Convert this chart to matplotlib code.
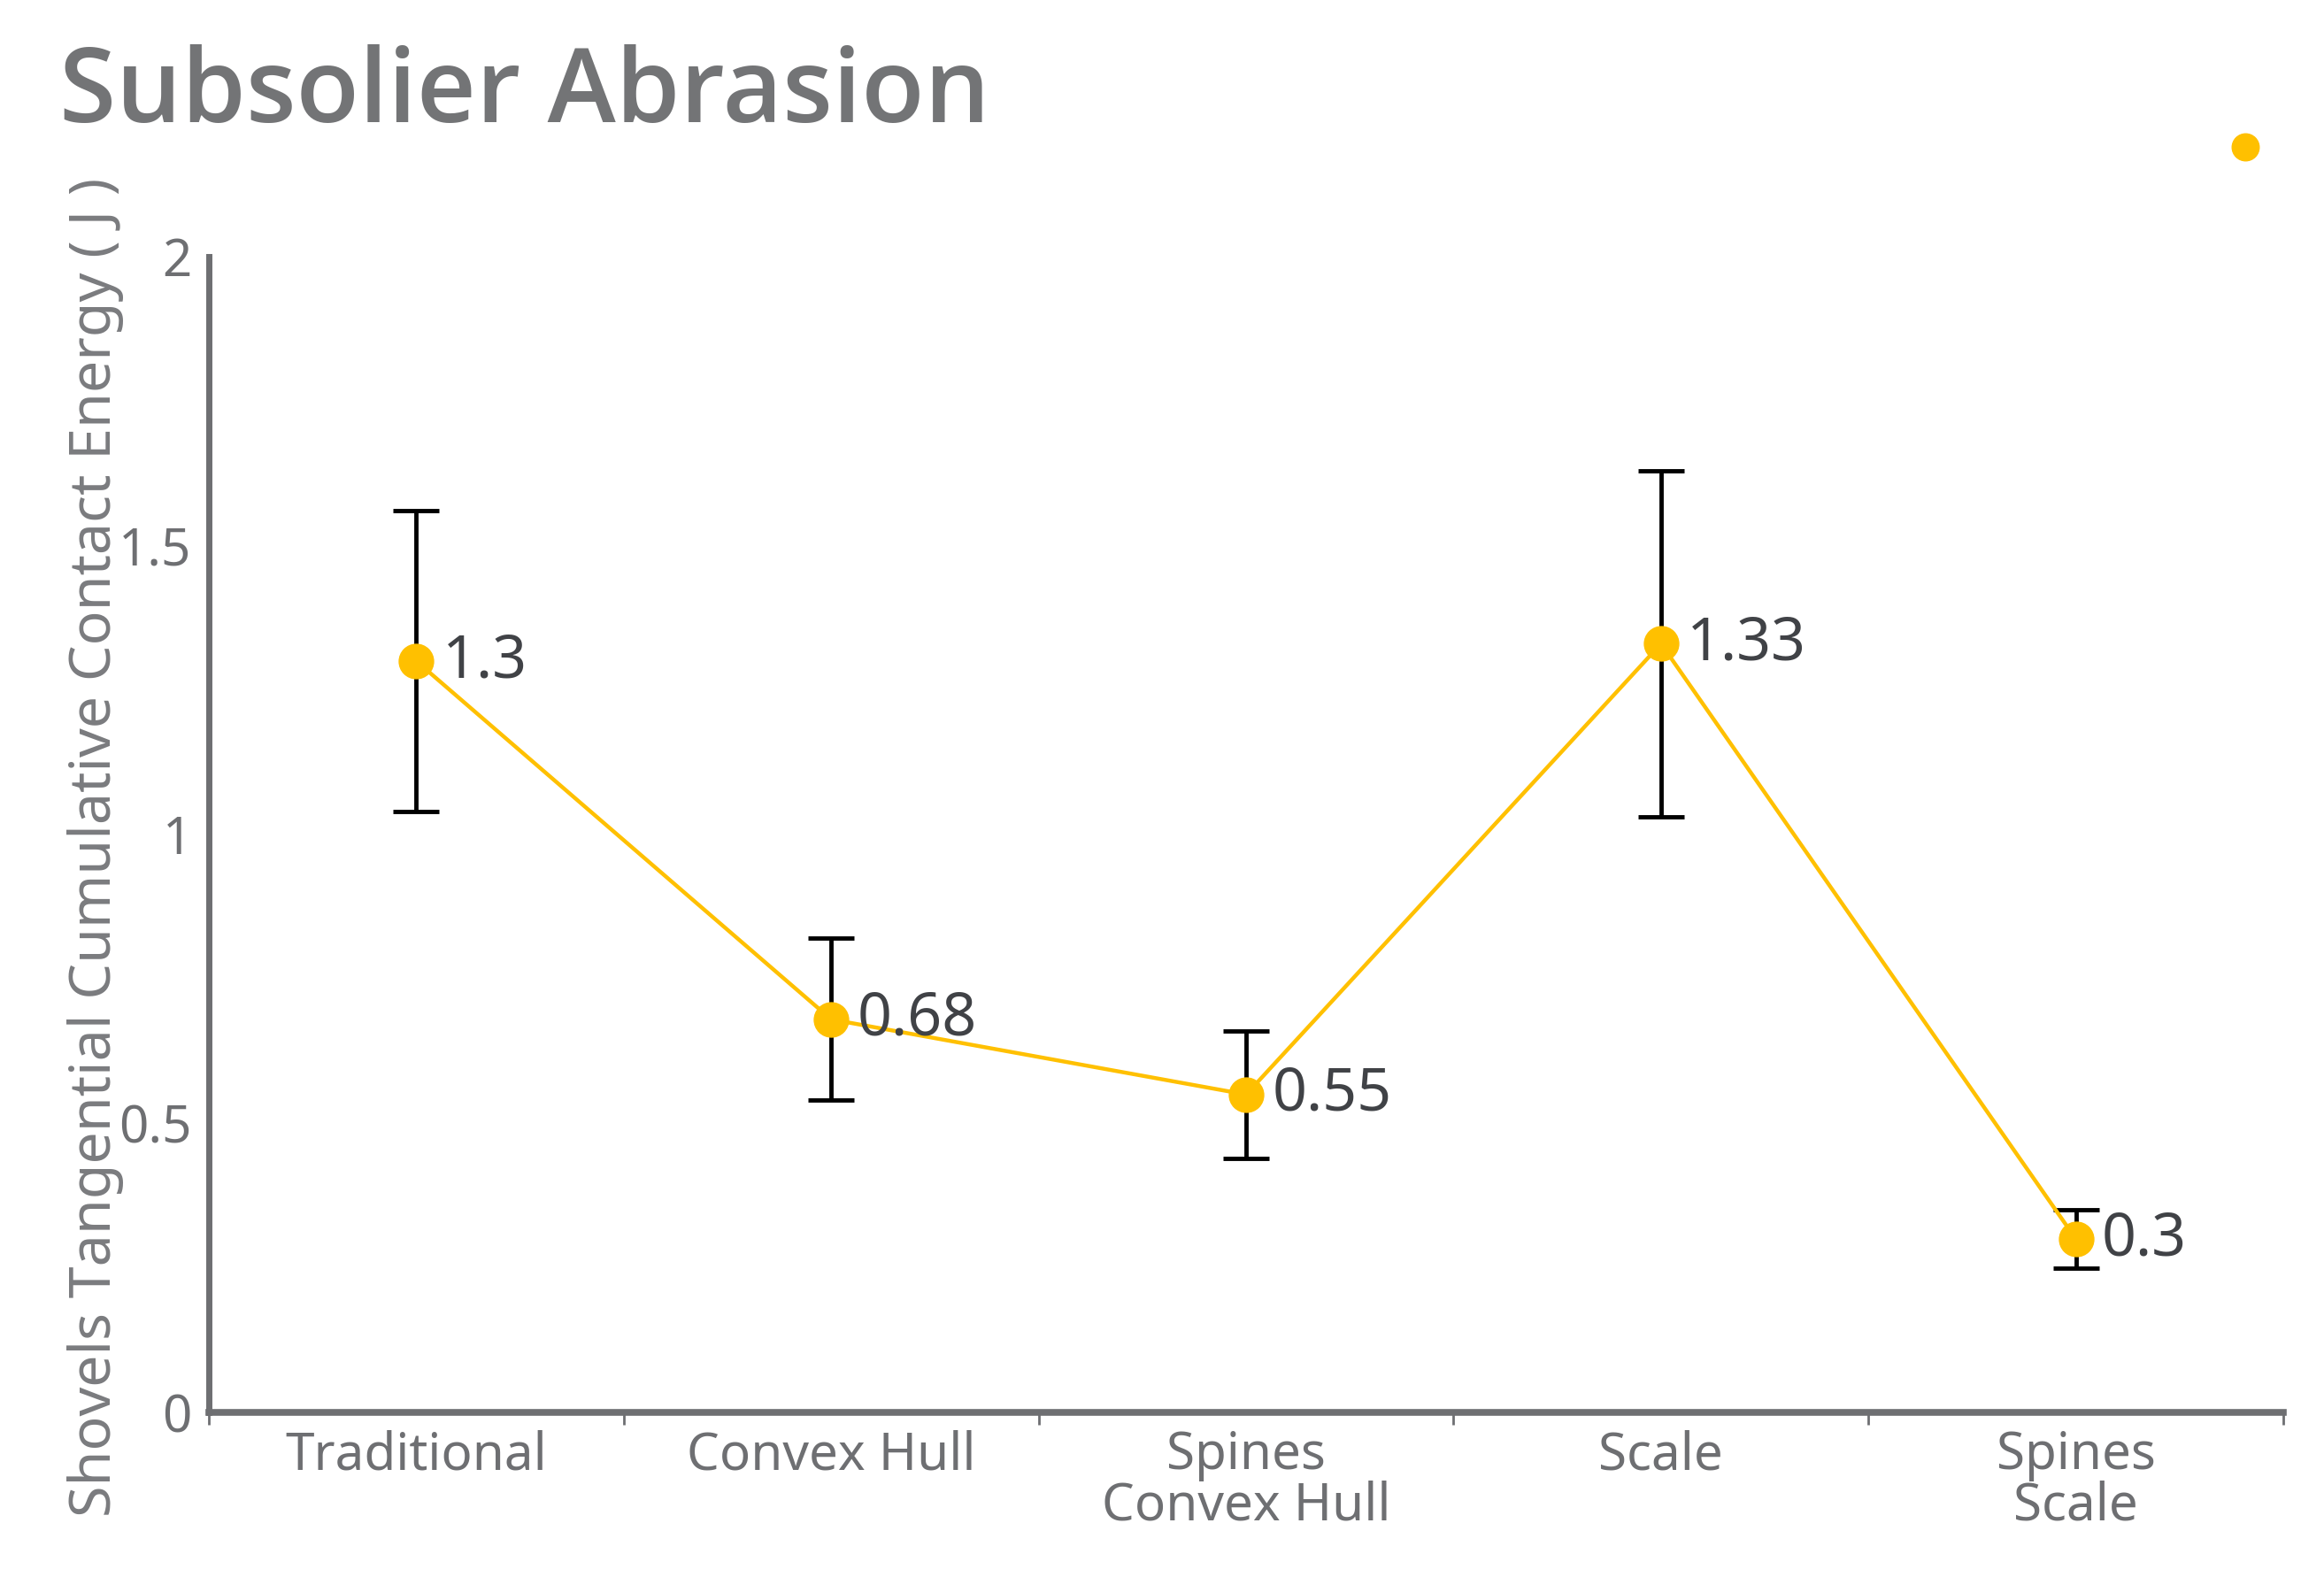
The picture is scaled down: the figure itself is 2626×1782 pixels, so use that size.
import matplotlib.pyplot as plt
from matplotlib.lines import Line2D

# ---- data ----
categories = ['Traditional', 'Convex Hull', 'Spines\nConvex Hull', 'Scale', 'Spines\nScale']
energy = [1.3, 0.68, 0.55, 1.33, 0.3]
errors = [0.26, 0.14, 0.11, 0.30, 0.05]
y_ticks = [0, 0.5, 1, 1.5, 2]
y_tick_labels = ['0', '0.5', '1', '1.5', '2']

gold = '#FFC000'
grey = '#6E6F72'

plt.rcParams['font.family'] = ['Noto Sans', 'DejaVu Sans']

fig = plt.figure(figsize=(26.26, 17.82), dpi=100)
ax = fig.add_axes([0.0899, 0.1044, 0.8926, 0.7329])

x = list(range(len(categories)))

# error bars first, then the line + markers on top
ax.errorbar(x, energy, yerr=errors, fmt='none', ecolor='black',
            elinewidth=3.5, capsize=19, capthick=3.5, zorder=2)
ax.plot(x, energy, color=gold, linewidth=3.2, marker='o',
        markersize=28, zorder=3)

# value labels to the right of each point
for xi, v in zip(x, energy):
    ax.annotate(f'{v:g}', (xi, v), xytext=(21, 0), textcoords='offset points',
                ha='left', va='center', fontsize=49, color='#404246', zorder=4)

ax.set_xlim(-0.5, len(categories) - 0.5)
ax.set_ylim(0, 2)

# y axis
ax.set_yticks(y_ticks)
ax.set_yticklabels(y_tick_labels)
ax.tick_params(axis='y', length=0, pad=14, labelsize=42, labelcolor=grey)

# x axis: labels at category centres, ticks at band edges
ax.set_xticks(x)
ax.set_xticklabels(categories, linespacing=0.95)
ax.set_xticks([i - 0.5 for i in range(len(categories) + 1)], minor=True)
ax.tick_params(axis='x', which='major', length=0, pad=14, labelsize=42, labelcolor=grey)
ax.tick_params(axis='x', which='minor', length=10, width=2, color=grey)

for side in ['top', 'right']:
    ax.spines[side].set_visible(False)
ax.spines['left'].set_color(grey)
ax.spines['bottom'].set_color(grey)
ax.spines['left'].set_linewidth(5)
ax.spines['bottom'].set_linewidth(5.5)

ax.set_ylabel('Shovels Tangential Cumulative Contact Energy ( J )',
              fontsize=46.5, color='#7A7B7E')
ax.yaxis.set_label_coords(-0.041, 0.489)

fig.text(0.0255, 0.972, 'Subsolier Abrasion', fontsize=84, fontweight='semibold',
         family='Open Sans', color='#737476', ha='left', va='top')

# lone legend marker in the top right corner
fig.add_artist(Line2D([0.9662], [0.9068], marker='o', markersize=22,
                      color=gold, linestyle='none', transform=fig.transFigure))

fig.savefig('out.png', dpi=100)
